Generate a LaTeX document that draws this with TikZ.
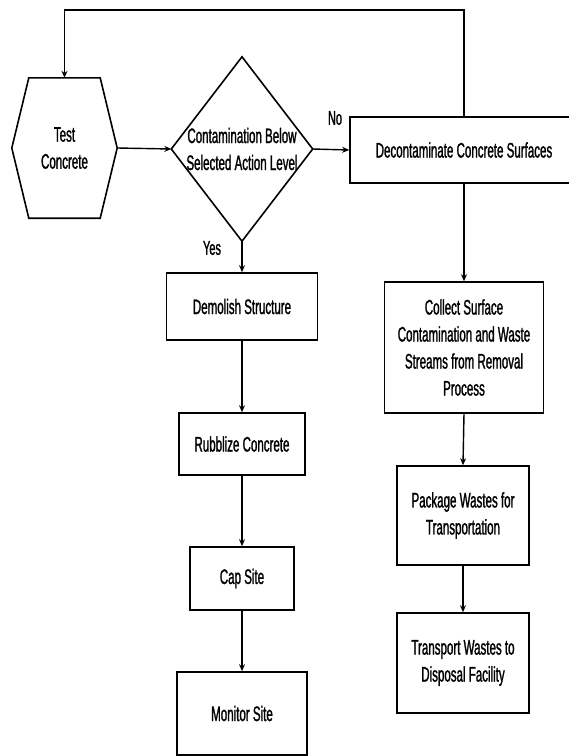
\documentclass[tikz,border=0pt]{standalone}
\usepackage{fontspec}
\setmainfont{Liberation Sans}[FakeStretch=0.55, FakeBold=1.2]
\usetikzlibrary{arrows.meta}
\begin{document}
\begin{tikzpicture}[x=1pt,y=-1pt,
  every node/.style={font=\fontsize{21}{27}\selectfont, align=center, inner sep=0pt},
  boxline/.style={line width=1.6pt, line join=miter},
  procbox/.style={draw, line width=1.6pt},
  conn/.style={line width=1.4pt},
  arr/.style={conn, -{Stealth[length=7pt,width=6pt]}},
  lbl/.style={font=\fontsize{20}{22}\selectfont}
]
\useasboundingbox (0,0) rectangle (569,756);
\clip (0,0) rectangle (569,756);

% start: hexagonal test step
\node[minimum width=105pt, minimum height=140pt] (test) at (64.5,148) {Test\\Concrete};
\draw[boxline] ([xshift=17pt]test.north west) -- ([xshift=-17pt]test.north east)
  -- (test.east) -- ([xshift=-17pt]test.south east) -- ([xshift=17pt]test.south west)
  -- (test.west) -- cycle;

% decision
\node[minimum width=141pt, minimum height=184pt] (chk) at (242,149) {Contamination Below\\Selected Action Level};
\draw[boxline] (chk.north) -- (chk.east) -- (chk.south) -- (chk.west) -- cycle;

% decontamination branch
\node[procbox, minimum width=228pt, minimum height=66pt] (dec) at (464,150) {Decontaminate Concrete Surfaces};
\node[procbox, minimum width=159pt, minimum height=131pt] (col) at (464,347.5) {Collect Surface\\Contamination and Waste\\Streams from Removal\\Process};
\node[procbox, minimum width=132pt, minimum height=99pt] (pkg) at (463,515.5) {Package Wastes for\\Transportation};
\node[procbox, minimum width=132pt, minimum height=100pt] (trn) at (463,663) {Transport Wastes to\\Disposal Facility};

% demolition branch
\node[procbox, minimum width=151pt, minimum height=67pt] (dem) at (242,306.5) {Demolish Structure};
\node[procbox, minimum width=126pt, minimum height=62pt] (rub) at (242,444) {Rubblize Concrete};
\node[procbox, minimum width=104pt, minimum height=63pt] (cap) at (242,578.5) {Cap Site};
\node[procbox, minimum width=130pt, minimum height=83pt] (mon) at (242,713.5) {Monitor Site};

% branch labels
\node[lbl] (no) at (335,118) {No};
\node[lbl] (yes) at (212,248) {Yes};

% connectors
\draw[arr] (test.east) -- (chk.west);
\draw[arr] (chk.east) -- (dec.west);
\draw[arr] (chk.south) -- (dem.north);
\draw[arr] (dem.south) -- (rub.north);
\draw[arr] (rub.south) -- (cap.north);
\draw[arr] (cap.south) -- (mon.north);
\draw[arr] (dec.south) -- (col.north);
\draw[arr] (col.south) -- (pkg.north);
\draw[arr] (pkg.south) -- (trn.north);

% feedback loop back to testing
\coordinate (looptop) at (0,10);
\draw[arr] (dec.north) -- (dec.north |- looptop) -| (test.north);
\end{tikzpicture}
\end{document}
